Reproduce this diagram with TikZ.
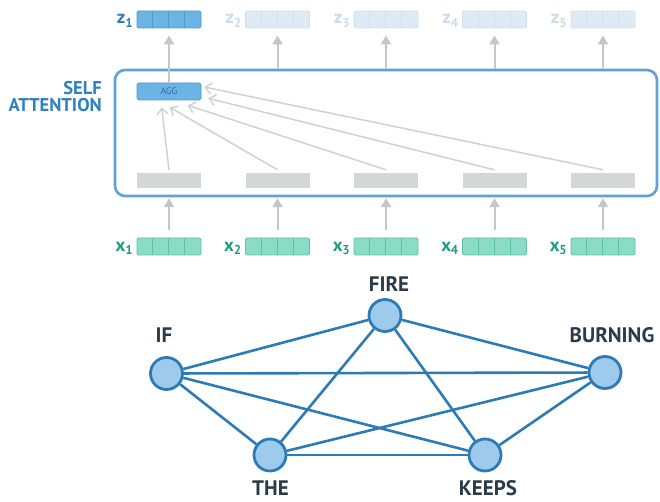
\documentclass[tikz,border=0pt]{standalone}
\usepackage{fontspec}
\setmainfont{PT Sans}
\usetikzlibrary{arrows.meta}

\definecolor{attnblue}{HTML}{5DA3D8}
\definecolor{attntext}{HTML}{2F80BF}
\definecolor{zfill}{HTML}{6DB3E3}
\definecolor{zline}{HTML}{4C9AD3}
\definecolor{ztext}{HTML}{2D7DB9}
\definecolor{zfaint}{HTML}{DEEBF7}
\definecolor{zfaintline}{HTML}{CDE0F2}
\definecolor{zfainttext}{HTML}{C6DCEF}
\definecolor{aggtext}{HTML}{2E6FA3}
\definecolor{hidden}{HTML}{D4D6D8}
\definecolor{xfill}{HTML}{8ADCC7}
\definecolor{xline}{HTML}{5EC2A9}
\definecolor{xtext}{HTML}{1E9C84}
\definecolor{arrowgray}{HTML}{C4C6C8}
\definecolor{attngray}{HTML}{CFD1D3}
\definecolor{edgeblue}{HTML}{2C7BB6}
\definecolor{nodefill}{HTML}{9ECBEC}
\definecolor{wordtext}{HTML}{2B3A4A}

\tikzset{
  vecbox/.style={rectangle, minimum width=64pt, minimum height=17pt, inner sep=0pt, rounded corners=1.5pt, line width=0.8pt},
  zvec/.style={vecbox, fill=zfill, draw=zline},
  zfaintvec/.style={vecbox, fill=zfaint, draw=zfaintline},
  xvec/.style={vecbox, fill=xfill, draw=xline},
  hidbox/.style={rectangle, minimum width=64pt, minimum height=15pt, inner sep=0pt, fill=hidden},
  aggbox/.style={rectangle, minimum width=64pt, minimum height=17pt, inner sep=0pt, rounded corners=1.5pt, fill=zfill, draw=zline, line width=0.6pt, text=aggtext, font=\fontsize{9.5}{10}\selectfont},
  veclabel/.style={anchor=base east, inner sep=0pt, font=\bfseries\fontsize{18.5}{20}\selectfont},
  uparrow/.style={draw=arrowgray, line width=2pt, -{Triangle[length=9pt,width=10pt]}},
  attnarrow/.style={draw=attngray, line width=1.5pt, -{Straight Barb[length=6pt,width=11pt,line width=1.5pt]}},
  word/.style={circle, minimum size=32pt, inner sep=0pt, fill=nodefill, draw=edgeblue, line width=2.8pt},
  wordlabel/.style={anchor=base, text=wordtext, font=\bfseries\fontsize{21}{24}\selectfont, inner sep=0pt},
  edge/.style={draw=edgeblue, line width=2.6pt}
}

\begin{document}
\begin{tikzpicture}[x=1pt,y=-1pt]
\useasboundingbox (0,0) rectangle (660,502);

% self-attention frame
\node[draw=attnblue, line width=2.6pt, rounded corners=10pt, fill=white,
      minimum width=542pt, minimum height=126pt, inner sep=0pt] (sa) at (386,133) {};
\node[anchor=north east, align=right, text=attntext, inner sep=0pt,
      font=\bfseries\fontsize{18.5}{17.5}\selectfont] (salabel) at (102,81) {SELF\\ATTENTION};

% output vectors
\node[zvec] (z1) at (169,19.5) {};
\node[zfaintvec] (z2) at (277.5,19.5) {};
\node[zfaintvec] (z3) at (386,19.5) {};
\node[zfaintvec] (z4) at (494.5,19.5) {};
\node[zfaintvec] (z5) at (603,19.5) {};
\foreach \i in {2,...,5} {
  \foreach \k in {1,2,3} \draw[zfaintline, line width=0.8pt]
    ([xshift=16*\k pt]z\i.north west) -- ([xshift=16*\k pt]z\i.south west);
}
\foreach \k in {1,2,3} \draw[zline, line width=0.8pt]
  ([xshift=16*\k pt]z1.north west) -- ([xshift=16*\k pt]z1.south west);

\node[veclabel, text=ztext] (lz1) at (133.5,24) {z\textsubscript{1}};
\node[veclabel, text=zfainttext] (lz2) at (242,24) {z\textsubscript{2}};
\node[veclabel, text=zfainttext] (lz3) at (350.5,24) {z\textsubscript{3}};
\node[veclabel, text=zfainttext] (lz4) at (459,24) {z\textsubscript{4}};
\node[veclabel, text=zfainttext] (lz5) at (567.5,24) {z\textsubscript{5}};

% aggregation box and hidden vectors
\node[aggbox] (agg) at (169,91.5) {AGG};
\node[hidbox] (g1) at (169,180.5) {};
\node[hidbox] (g2) at (277.5,180.5) {};
\node[hidbox] (g3) at (386,180.5) {};
\node[hidbox] (g4) at (494.5,180.5) {};
\node[hidbox] (g5) at (603,180.5) {};

% input vectors
\node[xvec] (x1) at (169,246.5) {};
\node[xvec] (x2) at (277.5,246.5) {};
\node[xvec] (x3) at (386,246.5) {};
\node[xvec] (x4) at (494.5,246.5) {};
\node[xvec] (x5) at (603,246.5) {};
\foreach \i in {1,...,5} {
  \foreach \k in {1,2,3} \draw[xline, line width=0.8pt]
    ([xshift=16*\k pt]x\i.north west) -- ([xshift=16*\k pt]x\i.south west);
}
\node[veclabel, text=xtext] (lx1) at (133.5,251.5) {x\textsubscript{1}};
\node[veclabel, text=xtext] (lx2) at (242,251.5) {x\textsubscript{2}};
\node[veclabel, text=xtext] (lx3) at (350.5,251.5) {x\textsubscript{3}};
\node[veclabel, text=xtext] (lx4) at (459,251.5) {x\textsubscript{4}};
\node[veclabel, text=xtext] (lx5) at (567.5,251.5) {x\textsubscript{5}};

% inputs into the attention layer
\foreach \i in {1,...,5}
  \draw[uparrow, shorten <=8pt, shorten >=10pt] (x\i.north) -- (g\i.south);

% attention outputs
\draw[uparrow, shorten >=7pt] (agg.north) -- (z1.south);
\foreach \i in {2,...,5}
  \draw[uparrow, shorten >=7pt] (z\i |- sa.north) -- (z\i.south);

% hidden vectors gathered by AGG
\draw[attnarrow] ([yshift=3pt]g1.north) -- ([shift={(25,7)}]agg.south west);
\draw[attnarrow] ([yshift=3pt]g2.north) -- ([shift={(33,7)}]agg.south west);
\draw[attnarrow] ([yshift=3pt]g3.north) -- ([shift={(51,5)}]agg.south west);
\draw[attnarrow] ([yshift=3pt]g4.north) -- ([shift={(7,-2)}]agg.south east);
\draw[attnarrow] ([yshift=3pt]g5.north) -- ([shift={(3,-4.5)}]agg.east);

% fully connected word graph
\node[word] (if) at (166.5,373.5) {};
\node[word] (fire) at (385,315.5) {};
\node[word] (burning) at (605,372.5) {};
\node[word] (the) at (270,455) {};
\node[word] (keeps) at (485,455) {};

\node[wordlabel] (lif) at (164,342) {IF};
\node[wordlabel] (lfire) at (389,291.5) {FIRE};
\node[wordlabel] (lburning) at (612,342.5) {BURNING};
\node[wordlabel] (lthe) at (270.5,495.5) {THE};
\node[wordlabel] (lkeeps) at (488,495.5) {KEEPS};

\draw[edge] (if) -- (fire);
\draw[edge] (if) -- (burning);
\draw[edge] (if) -- (the);
\draw[edge] (if) -- (keeps);
\draw[edge] (fire) -- (burning);
\draw[edge] (fire) -- (the);
\draw[edge] (fire) -- (keeps);
\draw[edge] (burning) -- (the);
\draw[edge] (burning) -- (keeps);
\draw[edge] (the) -- (keeps);
\end{tikzpicture}
\end{document}
